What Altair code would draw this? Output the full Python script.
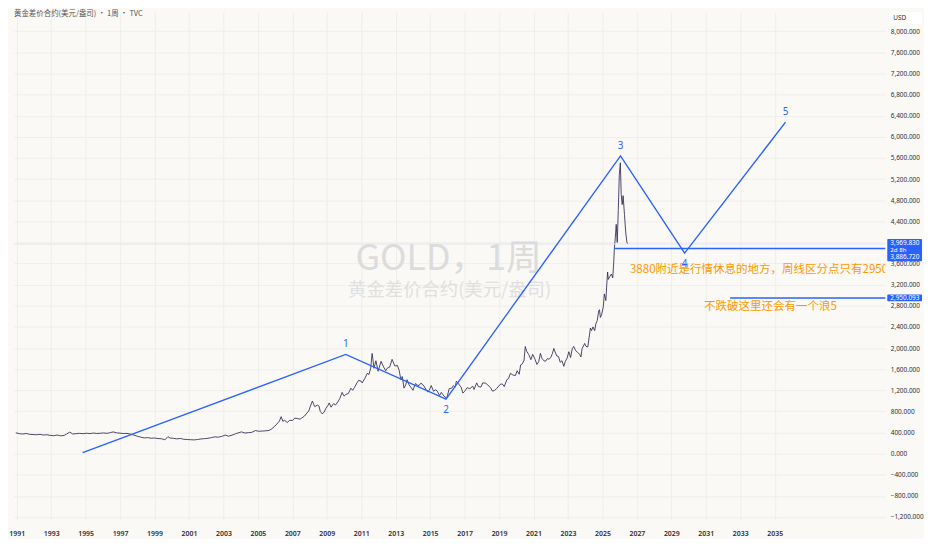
import altair as alt
import pandas as pd

# ---------------- data ----------------
price_t = [
    1990.95, 1991.15, 1991.35, 1991.55, 1991.75, 1991.95, 1992.15, 1992.35, 1992.55, 1992.75,
    1992.95, 1993.15, 1993.35, 1993.55, 1993.75, 1993.9, 1994.08, 1994.25, 1994.45, 1994.65,
    1994.85, 1995.05, 1995.25, 1995.45, 1995.65, 1995.85, 1996.05, 1996.25, 1996.45, 1996.6,
    1996.8, 1997.0, 1997.2, 1997.4, 1997.6, 1997.8, 1998.0, 1998.2, 1998.4, 1998.6,
    1998.8, 1999.0, 1999.2, 1999.4, 1999.6, 1999.72, 1999.78, 1999.9, 2000.1, 2000.3,
    2000.5, 2000.7, 2000.9, 2001.1, 2001.3, 2001.5, 2001.7, 2001.9, 2002.1, 2002.3,
    2002.5, 2002.7, 2002.9, 2003.1, 2003.3, 2003.5, 2003.7, 2003.9, 2004.05, 2004.25,
    2004.45, 2004.65, 2004.85, 2005.05, 2005.25, 2005.45, 2005.65, 2005.8, 2005.98, 2006.1,
    2006.25, 2006.35, 2006.45, 2006.55, 2006.7, 2006.85, 2007.0, 2007.15, 2007.3, 2007.45,
    2007.55, 2007.7, 2007.8, 2007.95, 2008.05, 2008.16, 2008.3, 2008.45, 2008.55, 2008.62,
    2008.74, 2008.85, 2008.95, 2009.05, 2009.14, 2009.25, 2009.4, 2009.5, 2009.6, 2009.75,
    2009.89, 2010.0, 2010.1, 2010.25, 2010.4, 2010.5, 2010.6, 2010.75, 2010.85, 2011.0,
    2011.05, 2011.2, 2011.35, 2011.45, 2011.55, 2011.63, 2011.68, 2011.74, 2011.85, 2011.98,
    2012.15, 2012.3, 2012.42, 2012.5, 2012.65, 2012.79, 2012.95, 2013.1, 2013.2, 2013.3,
    2013.38, 2013.48, 2013.58, 2013.66, 2013.78, 2013.9, 2014.0, 2014.15, 2014.25, 2014.35,
    2014.46, 2014.6, 2014.75, 2014.85, 2014.95, 2015.06, 2015.2, 2015.3, 2015.4, 2015.55,
    2015.65, 2015.8, 2015.92, 2016.0, 2016.1, 2016.25, 2016.35, 2016.45, 2016.52, 2016.65,
    2016.8, 2016.9, 2017.0, 2017.15, 2017.3, 2017.47, 2017.55, 2017.7, 2017.8, 2017.95,
    2018.05, 2018.22, 2018.35, 2018.5, 2018.62, 2018.75, 2018.85, 2018.98, 2019.1, 2019.2,
    2019.3, 2019.45, 2019.55, 2019.66, 2019.8, 2019.95, 2020.05, 2020.17, 2020.25, 2020.35,
    2020.45, 2020.52, 2020.6, 2020.72, 2020.85, 2020.95, 2021.09, 2021.2, 2021.3, 2021.4,
    2021.49, 2021.6, 2021.7, 2021.8, 2021.9, 2022.0, 2022.1, 2022.18, 2022.25, 2022.35,
    2022.45, 2022.55, 2022.65, 2022.76, 2022.85, 2022.95, 2023.05, 2023.15, 2023.25, 2023.33,
    2023.45, 2023.55, 2023.68, 2023.75, 2023.82, 2023.9, 2023.97, 2024.05, 2024.15, 2024.25,
    2024.3, 2024.37, 2024.45, 2024.55, 2024.62, 2024.7, 2024.78, 2024.83, 2024.88, 2024.95,
    2025.05, 2025.11, 2025.2, 2025.26, 2025.3, 2025.34, 2025.42, 2025.52, 2025.6, 2025.66,
    2025.69, 2025.75, 2025.8, 2025.86, 2025.92, 2025.98, 2026.04, 2026.09, 2026.15, 2026.2,
    2026.28, 2026.35, 2026.42, 2026.47,
]
price_v = [
    395, 378, 372, 382, 366, 362, 358, 366, 352, 358,
    346, 340, 352, 338, 345, 372, 408, 372, 378, 384,
    378, 386, 380, 390, 382, 386, 392, 384, 400, 412,
    394, 388, 380, 384, 370, 352, 330, 312, 298, 304,
    292, 296, 286, 282, 264, 300, 322, 296, 290, 280,
    288, 272, 268, 264, 260, 268, 278, 284, 290, 304,
    318, 312, 326, 352, 330, 350, 376, 398, 412, 390,
    398, 404, 438, 424, 428, 432, 440, 468, 520, 560,
    618, 700, 612, 632, 590, 632, 628, 672, 664, 654,
    676, 710, 752, 808, 900, 996, 890, 920, 900, 800,
    752, 790, 860, 905, 960, 880, 950, 920, 960, 1040,
    1160, 1090, 1120, 1140, 1240, 1200, 1250, 1340, 1390, 1370,
    1340, 1420, 1520, 1500, 1620, 1898, 1780, 1617, 1760, 1560,
    1748, 1640, 1570, 1617, 1640, 1786, 1660, 1670, 1580, 1400,
    1460, 1241, 1300, 1400, 1300, 1250, 1200, 1330, 1300, 1290,
    1335, 1300, 1220, 1170, 1200, 1290, 1180, 1210, 1190, 1100,
    1160, 1090, 1060, 1090, 1230, 1240, 1290, 1260, 1372, 1320,
    1260, 1147, 1180, 1250, 1230, 1278, 1215, 1340, 1270, 1260,
    1340, 1335, 1300, 1250, 1184, 1200, 1230, 1280, 1320, 1316,
    1270, 1400, 1420, 1523, 1490, 1480, 1570, 1504, 1680, 1700,
    1770, 2030, 1940, 1880, 1780, 1880, 1786, 1690, 1740, 1900,
    1805, 1760, 1750, 1800, 1790, 1820, 1900, 1992, 1930, 1850,
    1840, 1730, 1760, 1654, 1750, 1810, 1930, 1820, 1990, 2030,
    1950, 1920, 1880, 1830, 1990, 2040, 2086, 2030, 2020, 2250,
    2380, 2330, 2400, 2330, 2460, 2520, 2700, 2726, 2580, 2630,
    2780, 3026, 2900, 3250, 3440, 3300, 3350, 3402, 3330, 3650,
    3872, 4100, 4342, 4000, 4605, 5282, 5508, 4906, 4718, 4887,
    4530, 4200, 4004, 3969.83,
]

# Elliott wave drawing (start, 1, 2, 3, 4, 5)
wave_t = [1994.83, 2010.1, 2015.92, 2026.05, 2029.77, 2035.63]
wave_v = [20, 1880, 1034, 5640, 3797, 6278]
wave_lbl = ["", "1", "2", "3", "4", "5"]

# horizontal levels
level_v = [3886.72, 2950.093]
level_start = [2025.69, 2032.41]
last_price = 3969.83
countdown = "2d 8h"

# orange notes
note_text = ["3880附近是行情休息的地方，周线区分点只有2950", "不跌破这里还会有一个浪5"]
note_t = [2026.6, 2030.9]
note_v = [3477, 2782]

title_text = "黄金差价合约(美元/盎司)  •  1周  •  TVC"
wm_main = "GOLD，1周"
wm_sub = "黄金差价合约(美元/盎司)"

year_ticks = list(range(1991, 2036, 2))
price_ticks = list(range(-1200, 8001, 400))

# ---------------- layout ----------------
W, H = 878, 512
X_DOM = [1990.84, 2041.42]
Y_DOM = [-1259, 8365]
UPP = (Y_DOM[1] - Y_DOM[0]) / H  # price units per pixel

BLUE = "#2962FF"
ORANGE = "#FF9800"
CJK = "Noto Sans CJK SC"
LATIN = "Noto Sans"

xs = alt.Scale(domain=X_DOM, nice=False, zero=False)
ys = alt.Scale(domain=Y_DOM, nice=False, zero=False)

x_axis = alt.Axis(
    values=year_ticks, format="d", title=None, ticks=False, domain=False,
    grid=True, gridColor="#EFEEEA", labelFontSize=7, labelFontWeight=600,
    labelColor="#2A2E39", labelFont=LATIN, labelPadding=10, labelFlush=False)
y_axis = alt.Axis(
    orient="right", values=price_ticks, format=",.3f", title=None, ticks=False,
    domain=False, grid=True, gridColor="#EFEEEA", labelFontSize=6.5,
    labelColor="#2A2E39", labelFont=LATIN, labelPadding=5, labelFlush=False)


def X(f):
    return alt.X(f, type="quantitative", scale=xs, axis=x_axis)


def Y(f):
    return alt.Y(f, type="quantitative", scale=ys, axis=y_axis)


price_df = pd.DataFrame({"t": price_t, "v": price_v})
wave_df = pd.DataFrame({"t": wave_t, "v": wave_v, "lbl": wave_lbl})
level_df = pd.DataFrame({"t": level_start, "t2": [X_DOM[1]] * len(level_v), "v": level_v})
note_df = pd.DataFrame({"t": note_t, "v": note_v, "txt": note_text})

price_layer = alt.Chart(price_df).mark_line(
    color="#2E2852", strokeWidth=0.9, opacity=0.95
).encode(x=X("t"), y=Y("v"))

cur_line = alt.Chart(pd.DataFrame({"v": [last_price]})).mark_rule(
    color="#E2E6F0", strokeWidth=1
).encode(y=Y("v"))

wave_line = alt.Chart(wave_df).mark_line(color=BLUE, strokeWidth=1.4).encode(
    x=X("t"), y=Y("v"))

up_lbl = alt.Chart(wave_df.iloc[[1, 3, 5]]).mark_text(
    color=BLUE, fontSize=10, font=LATIN, dy=-10).encode(x=X("t"), y=Y("v"), text="lbl:N")
dn_lbl = alt.Chart(wave_df.iloc[[2, 4]]).mark_text(
    color=BLUE, fontSize=10, font=LATIN, dy=11).encode(x=X("t"), y=Y("v"), text="lbl:N")

levels = alt.Chart(level_df).mark_rule(color=BLUE, strokeWidth=1.5).encode(
    x=X("t"), x2="t2", y=Y("v"))

notes = alt.Chart(note_df).mark_text(
    color=ORANGE, fontSize=11.6, font=CJK, align="left", baseline="middle", clip=True
).encode(x=X("t"), y=Y("v"), text="txt:N")

watermark = alt.Chart(pd.DataFrame({"a": [wm_main]})).mark_text(
    color="#DCDCDC", fontSize=36, font=CJK, align="center", baseline="middle"
).encode(x=alt.value(438), y=alt.value(249), text="a:N")
watermark2 = alt.Chart(pd.DataFrame({"a": [wm_sub]})).mark_text(
    color="#E0E0E0", fontSize=18.5, font=CJK, align="center", baseline="middle"
).encode(x=alt.value(439), y=alt.value(280), text="a:N")

title = alt.Chart(pd.DataFrame({"a": [title_text]})).mark_text(
    color="#555555", fontSize=7.5, font=CJK, align="left", baseline="middle"
).encode(x=alt.value(0), y=alt.value(2), text="a:N")

usd_box = alt.Chart(pd.DataFrame({"a": [1]})).mark_rect(
    color="#FFFFFF", cornerRadius=2
).encode(x=alt.value(W + 4), x2=alt.value(W + 37), y=alt.value(0), y2=alt.value(12))
usd_txt = alt.Chart(pd.DataFrame({"a": ["USD"]})).mark_text(
    color="#2A2E39", fontSize=6.5, font=LATIN, align="left", baseline="middle"
).encode(x=alt.value(W + 8), y=alt.value(6), text="a:N")

# price tag boxes on the right scale
box_df = pd.DataFrame({
    "top": [last_price + 5 * UPP, level_v[1] + 3.5 * UPP],
    "bot": [level_v[0] - 13 * UPP, level_v[1] - 3.5 * UPP],
})
boxes = alt.Chart(box_df).mark_rect(color=BLUE, cornerRadius=1).encode(
    x=alt.value(W + 2), x2=alt.value(W + 37), y=Y("top"), y2="bot")

tag_df = pd.DataFrame({
    "v": [last_price, last_price, level_v[0], level_v[1]],
    "txt": [f"{last_price:,.3f}", countdown, f"{level_v[0]:,.3f}", f"{level_v[1]:,.3f}"],
})
tag_style = dict(color="white", font=LATIN, align="left", baseline="middle")
tag0 = alt.Chart(tag_df.iloc[[0]]).mark_text(fontSize=6.5, dy=-1, **tag_style).encode(
    x=alt.value(W + 5), y=Y("v"), text="txt:N")
tag1 = alt.Chart(tag_df.iloc[[1]]).mark_text(fontSize=6.2, dy=6, **tag_style).encode(
    x=alt.value(W + 5), y=Y("v"), text="txt:N")
tag2 = alt.Chart(tag_df.iloc[[2]]).mark_text(fontSize=6.5, dy=9, **tag_style).encode(
    x=alt.value(W + 5), y=Y("v"), text="txt:N")
tag3 = alt.Chart(tag_df.iloc[[3]]).mark_text(fontSize=6.5, dy=0, **tag_style).encode(
    x=alt.value(W + 5), y=Y("v"), text="txt:N")

chart = alt.layer(
    price_layer, cur_line, watermark, watermark2, wave_line, levels, up_lbl, dn_lbl,
    notes, title, usd_box, usd_txt, boxes, tag0, tag1, tag2, tag3,
).properties(
    width=W, height=H, background="#FAF9F6",
    padding={"left": 0, "top": 0, "right": 0, "bottom": 0},
).configure_view(stroke=None)

chart.save("out.html", embed_options={"renderer": "svg", "actions": False})
